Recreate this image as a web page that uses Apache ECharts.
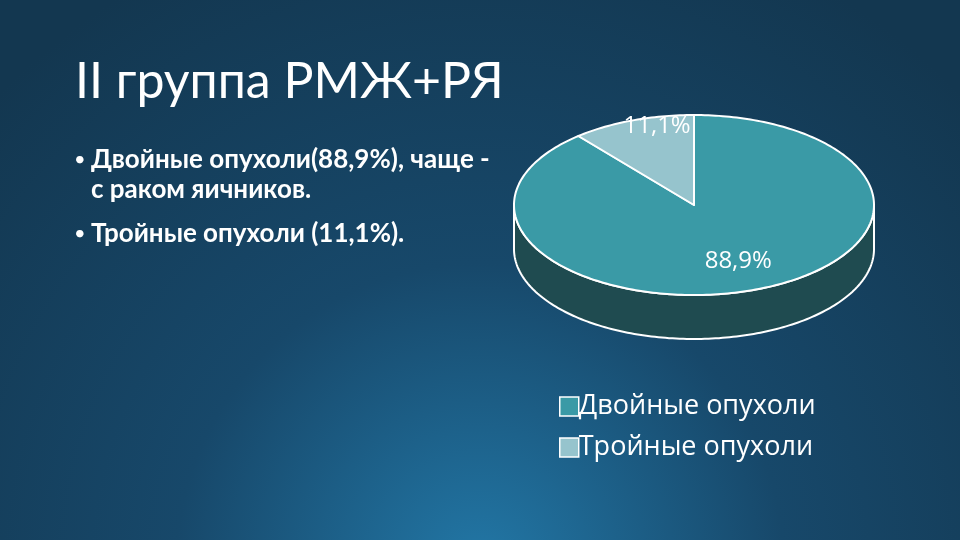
<!DOCTYPE html>
<html>
<head>
<meta charset="utf-8">
<script src="https://cdn.jsdelivr.net/npm/echarts@6/dist/echarts.min.js"></script>
<style>
html, body { margin: 0; padding: 0; }
#chart { width: 960px; height: 540px; }
</style>
</head>
<body>
<div id="chart"></div>
<script>
// data
const categories = ['Двойные опухоли', 'Тройные опухоли'];
const values = [88.9, 11.1];
const bullets = [
    ['Двойные опухоли(88,9%), чаще -', 'с раком яичников.'],
    ['Тройные опухоли (11,1%).']
];

const sliceColors = ['#3a9aa6', '#96c4cd'];
const sideColor = '#1f4b50';
// pie geometry (3d disc)
const cx = 694, cy = 205, rx = 180, ry = 90, depth = 44;
// label spot as share of radius, x and y
const labelK = [[0.72, 0.66], [0.6, 0.93]];

const total = values.reduce((a, b) => a + b, 0);
const fmt = v => v.toFixed(1).replace('.', ',') + '%';

const pt = (t, dy) => [cx + rx * Math.sin(t), cy - ry * Math.cos(t) + dy];
const arc = (a, b, dy) => {
    const out = [];
    const n = Math.max(2, Math.ceil(Math.abs(b - a) / 0.02));
    for (let i = 0; i <= n; i++) out.push(pt(a + (b - a) * i / n, dy));
    return out;
};

const renderSlice = (params, api) => {
    const idx = params.seriesIndex;
    let before = 0;
    for (let i = 0; i < idx; i++) before += values[i];
    const v = api.value(0);
    const a0 = before / total * Math.PI * 2;
    const a1 = (before + v) / total * Math.PI * 2;
    const children = [];
    // front wall
    const lo = Math.max(a0, Math.PI / 2), hi = Math.min(a1, Math.PI * 1.5);
    if (lo < hi) {
        const pts = arc(lo, hi, 0).concat(arc(hi, lo, depth));
        children.push({
            type: 'polygon', z2: 1,
            shape: { points: pts },
            style: { fill: sideColor, stroke: '#ffffff', lineWidth: 2, lineJoin: 'round' }
        });
    }
    // top face
    children.push({
        type: 'polygon', z2: 5,
        shape: { points: [[cx, cy]].concat(arc(a0, a1, 0)) },
        style: { fill: sliceColors[idx], stroke: '#ffffff', lineWidth: 2, lineJoin: 'round' }
    });
    const mid = (a0 + a1) / 2;
    children.push({
        type: 'text', z2: 10,
        x: cx + rx * labelK[idx][0] * Math.sin(mid),
        y: cy - ry * labelK[idx][1] * Math.cos(mid),
        style: {
            text: fmt(v), fill: '#ffffff', fontSize: 24,
            fontFamily: 'Open Sans', align: 'center', verticalAlign: 'middle'
        }
    });
    return { type: 'group', children: children };
};

const bulletGraphics = [];
let y = 163;
bullets.forEach(lines => {
    bulletGraphics.push({
        type: 'text', left: 74, top: y - 13,
        style: { text: '•', fill: '#ffffff', fontSize: 20, fontFamily: 'Lato' }
    });
    lines.forEach(line => {
        bulletGraphics.push({
            type: 'text', left: 91, top: y - 16,
            style: { text: line, fill: '#ffffff', fontSize: 26, fontWeight: 'bold', fontFamily: 'Lato' }
        });
        y += 30;
    });
    y += 14;
});

const chart = echarts.init(document.getElementById('chart'));
chart.setOption({
    backgroundColor: {
        type: 'radial', x: 0.5, y: 1.05, r: 1.25,
        colorStops: [
            { offset: 0, color: '#2277a6' },
            { offset: 0.45, color: '#17486a' },
            { offset: 1, color: '#133750' }
        ]
    },
    title: {
        text: 'II группа РМЖ+РЯ',
        left: 70, top: 52,
        textStyle: { color: '#ffffff', fontSize: 50, fontWeight: 'normal', fontFamily: 'Lato' }
    },
    graphic: bulletGraphics,
    legend: {
        orient: 'vertical',
        left: 554, top: 388,
        itemWidth: 19, itemHeight: 19, itemGap: 14,
        icon: 'rect',
        data: categories,
        itemStyle: { borderColor: '#ffffff', borderWidth: 1.5 },
        textStyle: { color: '#ffffff', fontSize: 27, fontFamily: 'Open Sans', padding: [0, 0, 0, -5] }
    },
    series: categories.map((name, i) => ({
        name: name,
        type: 'custom',
        coordinateSystem: 'none',
        itemStyle: { color: sliceColors[i] },
        renderItem: renderSlice,
        data: [values[i]],
        silent: true
    }))
});
</script>
</body>
</html>
